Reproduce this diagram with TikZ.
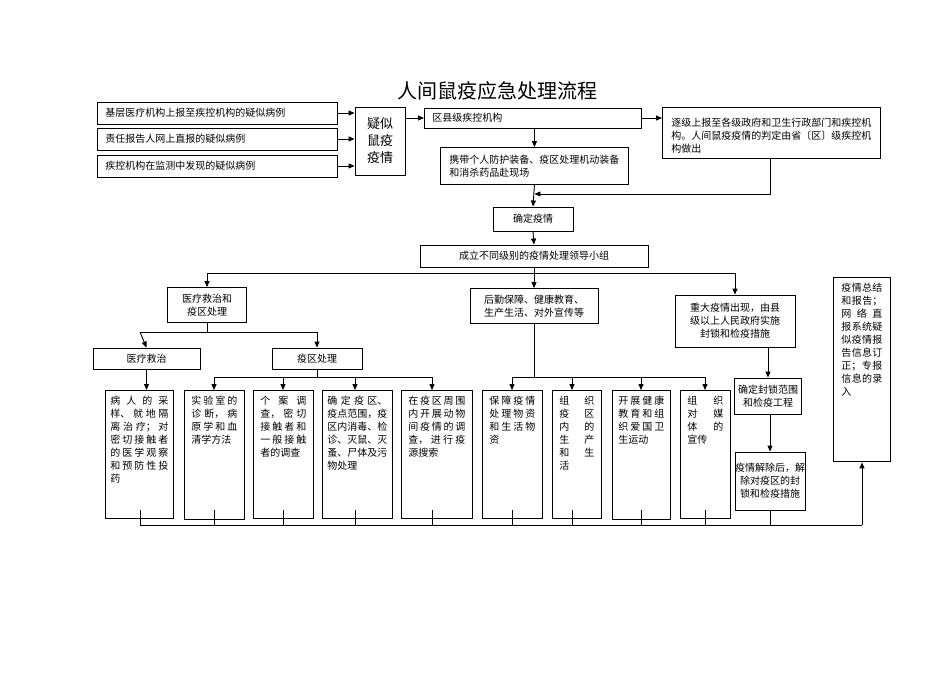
\documentclass[tikz,border=0pt]{standalone}
\usepackage{fontspec}
\setmainfont{Noto Sans CJK SC}
\XeTeXlinebreaklocale "zh"
\XeTeXlinebreakskip=0pt plus 3pt
\usetikzlibrary{arrows.meta}
\begin{document}
\begin{tikzpicture}[x=1pt,y=-1pt,
  bx/.style={draw,line width=0.9pt,font=\fontsize{10}{13}\selectfont,inner sep=0pt},
  ar/.style={-{Triangle[length=6pt,width=5pt]},line width=0.9pt},
  ln/.style={line width=0.9pt}]
\useasboundingbox (0,0) rectangle (950,672);
\newcommand{\R}[6]{\node[bx,minimum width=#4-#2,minimum height=#5-#3] (#1) at ({(#2+#4)/2},{(#3+#5)/2}) {#6};}
\newcommand{\T}[7]{\node[bx,minimum width=#4-#2,minimum height=#5-#3,anchor=north west,text width=#4-#2-#6,align=justify,inner xsep=#6/2,inner ysep=6pt,text depth=#5-#3-12pt] (#1) at (#2,#3) {#7};}
\node[font=\fontsize{20}{24}\selectfont] (title) at (497,91) {人间鼠疫应急处理流程};
\node[bx,minimum width=240,minimum height=22,anchor=west,inner xsep=8pt,text width=224,align=left] (a1) at (97,113) {基层医疗机构上报至疾控机构的疑似病例};
\node[bx,minimum width=240,minimum height=22,anchor=west,inner xsep=8pt,text width=224,align=left] (a2) at (97,139) {责任报告人网上直报的疑似病例};
\node[bx,minimum width=240,minimum height=22,anchor=west,inner xsep=8pt,text width=224,align=left] (a3) at (97,166) {疾控机构在监测中发现的疑似病例};
\node[bx,minimum width=50,minimum height=68,font=\fontsize{13}{17}\selectfont,align=center] (ys) at (380,141) {疑似\\鼠疫\\疫情};
\node[bx,minimum width=217,minimum height=20,anchor=west,inner xsep=8pt,text width=201,align=left] (q) at (424,118) {区县级疾控机构};
\node[bx,minimum width=218,minimum height=51,anchor=north west,inner xsep=9pt,inner ysep=8pt,text width=200,align=left,text depth=22pt] (r) at (662,107) {逐级上报至各级政府和卫生行政部门和疾控机构。人间鼠疫疫情的判定由省〔区〕级疾控机构做出};
\node[bx,minimum width=188,minimum height=37,anchor=west,inner xsep=9pt,text width=170,align=left] (c) at (440,166) {携带个人防护装备、疫区处理机动装备和消杀药品赴现场};
\R{cf}{493}{207}{573}{231}{确定疫情}
\R{g}{420}{245}{648}{267}{成立不同级别的疫情处理领导小组}
\node[bx,minimum width=79,minimum height=35,align=center] (m) at (207,305) {医疗救治和\\疫区处理};
\node[bx,minimum width=128,minimum height=35,align=center] (h) at (534,306) {后勤保障、健康教育、\\生产生活、对外宣传等};
\node[bx,minimum width=120,minimum height=52,align=center] (z) at (735,321) {重大疫情出现，由县\\级以上人民政府实施\\封锁和检疫措施};
\R{m1}{93}{348}{200}{369}{医疗救治}
\R{m2}{272}{348}{362}{369}{疫区处理}
\T{b1}{105}{390}{173}{510}{10}{病人的采样、就地隔离治疗；对密切接触者的医学观察和预防性投药}
\T{b2}{184}{390}{244}{510}{14}{实验室的诊断，病原学和血清学方法}
\T{b3}{253}{390}{313}{510}{14}{个案调查，密切接触者和一般接触者的调查}
\T{b4}{322}{390}{392}{510}{10}{确定疫区、疫点范围，疫区内消毒、检诊、灭鼠、灭蚤、尸体及污物处理}
\T{b5}{401}{390}{472}{510}{14}{在疫区周围内开展动物间疫情的调查，进行疫源搜索}
\T{b6}{482}{390}{542}{510}{14}{保障疫情处理物资和生活物资}
\T{b7}{552}{390}{601}{510}{14}{组\hfill 织\\ 疫\hfill 区\\ 内\hfill 的\\ 生\hfill 产\\ 和\hfill 生\\ 活}
\T{b8}{612}{390}{670}{510}{12}{开展健康教育和组织爱国卫生运动}
\T{b9}{680}{390}{730}{510}{14}{组\hfill 织\\ 对\hfill 媒\\ 体\hfill 的\\ 宣传}
\node[bx,minimum width=67,minimum height=36,align=center] (f1) at (768,396) {确定封锁范围\\和检疫工程};
\node[bx,minimum width=70,minimum height=58,align=center] (f2) at (770,481) {疫情解除后，解\\除对疫区的封\\锁和检疫措施};
\T{rt}{833}{277}{890}{453}{16}{疫情总结和报告；网络直报系统疑似疫情报告信息订正；专报信息的录入}
% connectors
\draw[ar] (a1.east) -- (ys.west |- a1.east);
\draw[ar] (a2.east) -- (ys.west |- a2.east);
\draw[ar] (a3.east) -- (ys.west |- a3.east);
\draw[ar] (ys.east |- q.west) -- (q.west);
\draw[ar] (q.east) -- (r.west |- q.east);
\draw[ar] (q.south -| c.north) -- (c.north);
\draw[ar] (c.south) -- (cf.north);
\coordinate (rj) at (770,194);
\draw[ar] (r.south -| rj) -- (rj) -- (c.south |- rj);
\draw[ar] (cf.south) -- (g.north);
\coordinate (busL) at (207,273);
\draw[ln] (g.south) -- (g.south |- busL);
\draw[ar] (busL) -- (m.north);
\draw[ar] (735,273) -- (z.north);
\draw[ln] (busL) -- (735,273);
\draw[ar] (h.north |- busL) -- (h.north);
\draw[ln] (m.south) -- (207,332);
\draw[ar] (140,332) -- (m1.north);
\draw[ar] (317,332) -- (m2.north);
\draw[ln] (140,332) -- (317,332);
\draw[ar] (m1.south) -- (b1.north -| m1.south);
\draw[ln] (m2.south) -- (317,377);
\draw[ln] (214,377) -- (432,377);
\foreach \b/\x in {b2/214,b3/283,b4/355,b5/432} \draw[ar] (\x,377) -- (\x,390);
\draw[ln] (h.south) -- (534,377);
\draw[ln] (512,377) -- (705,377);
\foreach \b/\x in {b6/512,b7/572,b8/641,b9/705} \draw[ar] (\x,377) -- (\x,390);
\draw[ar] (z.south -| f1.north) -- (f1.north);
\draw[ar] (f1.south -| f2.north) -- (f2.north);
\draw[ln] (140,525) -- (862,525);
\draw[ar] (862,525) -- (rt.south -| 862,0);
\foreach \x in {140,214,283,355,432,512,572,641,705,770} \draw[ln] (\x,510) -- (\x,525);
\end{tikzpicture}
\end{document}
